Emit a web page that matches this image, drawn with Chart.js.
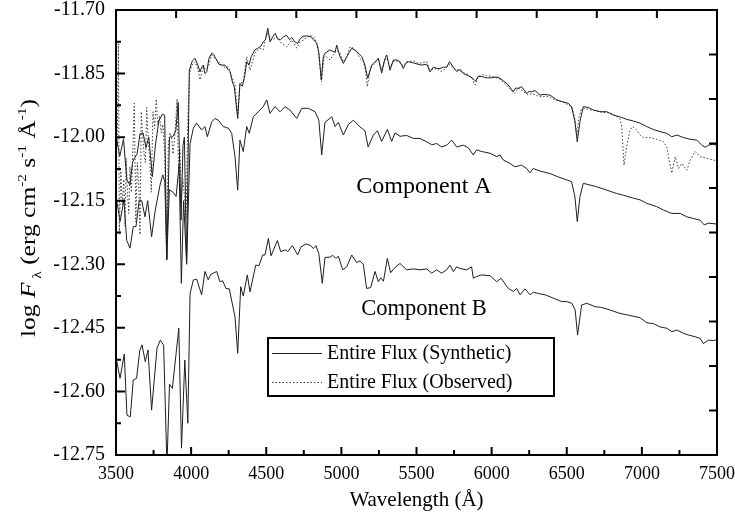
<!DOCTYPE html>
<html>
<head>
<meta charset="utf-8">
<script src="https://cdn.jsdelivr.net/npm/chart.js@4.4.1/dist/chart.umd.min.js"></script>
<style>
  html, body { margin: 0; padding: 0; background: #fff; }
  #wrap { width: 735px; height: 525px; }
</style>
</head>
<body>
<div id="wrap"><canvas id="fluxChart" width="735" height="525"></canvas></div>
<script>
// values: wavelength (Å) and log F_lambda

// entire flux, synthetic
const synWave = [3502, 3525, 3550, 3572, 3593, 3610, 3622, 3640, 3660, 3680, 3700, 3718, 3742, 3762, 3785, 3808, 3824, 3838, 3856, 3878,
  3898, 3914, 3933, 3946, 3955, 3970, 3988, 4008, 4026, 4045, 4059, 4070, 4081, 4092, 4104, 4118, 4137, 4150, 4165, 4185,
  4203, 4225, 4245, 4259, 4275, 4287, 4310, 4325, 4340, 4355, 4370, 4385, 4400, 4425, 4445, 4465, 4480, 4495, 4510, 4525,
  4545, 4560, 4575, 4595, 4615, 4636, 4655, 4670, 4690, 4709, 4725, 4745, 4770, 4800, 4836, 4850, 4866, 4880, 4891, 4924,
  4958, 4969, 4991, 5013, 5036, 5069, 5102, 5136, 5157, 5175, 5202, 5224, 5246, 5268, 5290, 5302, 5324, 5346, 5370, 5390,
  5412, 5430, 5446, 5480, 5510, 5535, 5568, 5590, 5612, 5640, 5656, 5680, 5701, 5720, 5745, 5767, 5790, 5812, 5845, 5870,
  5893, 5910, 5934, 5967, 6000, 6030, 6056, 6080, 6100, 6122, 6144, 6160, 6177, 6199, 6220, 6233, 6250, 6266, 6288, 6322,
  6350, 6389, 6433, 6466, 6510, 6532, 6554, 6570, 6588, 6610, 6643, 6677, 6721, 6766, 6810, 6854, 6899, 6943, 6988, 7032,
  7077, 7122, 7166, 7199, 7233, 7277, 7322, 7366, 7399, 7421, 7444, 7470, 7500];
const synFlux = [-12.000, -12.045, -12.005, -12.100, -12.113, -12.060, -12.050, -12.040, -11.992, -11.990, -12.025, -12.000, -12.093, -12.020, -11.962, -11.946, -11.948, -12.288, -12.000, -11.999,
  -11.985, -11.918, -12.196, -12.020, -12.000, -12.298, -11.842, -11.820, -11.814, -11.830, -11.846, -11.835, -11.830, -11.850, -11.846, -11.815, -11.802, -11.805, -11.815, -11.828,
  -11.830, -11.830, -11.840, -11.845, -11.870, -11.881, -11.956, -11.873, -11.880, -11.860, -11.822, -11.830, -11.810, -11.794, -11.790, -11.785, -11.775, -11.770, -11.743, -11.775,
  -11.762, -11.755, -11.768, -11.770, -11.763, -11.760, -11.770, -11.765, -11.775, -11.779, -11.768, -11.762, -11.761, -11.764, -11.779, -11.800, -11.865, -11.810, -11.802, -11.794,
  -11.800, -11.783, -11.810, -11.826, -11.810, -11.790, -11.798, -11.810, -11.830, -11.861, -11.830, -11.822, -11.814, -11.849, -11.815, -11.806, -11.842, -11.818, -11.818, -11.822,
  -11.838, -11.825, -11.822, -11.825, -11.828, -11.830, -11.828, -11.846, -11.835, -11.838, -11.838, -11.835, -11.835, -11.822, -11.835, -11.845, -11.840, -11.850, -11.855, -11.860,
  -11.868, -11.857, -11.857, -11.860, -11.860, -11.858, -11.861, -11.868, -11.873, -11.882, -11.893, -11.884, -11.885, -11.881, -11.890, -11.897, -11.892, -11.893, -11.890, -11.901,
  -11.899, -11.901, -11.912, -11.916, -11.920, -11.928, -11.963, -12.011, -11.963, -11.928, -11.930, -11.936, -11.940, -11.940, -11.948, -11.952, -11.958, -11.962, -11.967, -11.975,
  -11.982, -11.987, -11.991, -11.999, -11.995, -12.001, -12.005, -12.007, -12.019, -12.024, -12.019, -12.017, -12.019];

// entire flux, observed
const obsWave = [3508, 3516, 3522, 3532, 3542, 3552, 3560, 3568, 3576, 3585, 3593, 3603, 3613, 3622, 3632, 3642, 3652, 3660, 3668, 3678,
  3687, 3696, 3704, 3714, 3724, 3735, 3746, 3757, 3768, 3778, 3790, 3801, 3812, 3824, 3836, 3848, 3858, 3870, 3880, 3890,
  3898, 3906, 3916, 3926, 3935, 3945, 3956, 3966, 3978, 3990, 4005, 4026, 4045, 4059, 4081, 4100, 4114, 4137, 4150, 4170,
  4203, 4225, 4248, 4270, 4292, 4310, 4325, 4347, 4370, 4392, 4425, 4458, 4480, 4503, 4520, 4536, 4570, 4603, 4636, 4670,
  4703, 4725, 4747, 4770, 4791, 4825, 4845, 4868, 4885, 4902, 4924, 4946, 4969, 4991, 5013, 5036, 5058, 5080, 5102, 5125,
  5146, 5160, 5172, 5190, 5202, 5224, 5246, 5268, 5285, 5302, 5324, 5346, 5368, 5390, 5412, 5435, 5479, 5510, 5535, 5568,
  5590, 5612, 5634, 5660, 5690, 5720, 5750, 5780, 5810, 5845, 5870, 5890, 5910, 5934, 5967, 6000, 6030, 6060, 6100, 6130,
  6150, 6180, 6210, 6240, 6270, 6300, 6330, 6360, 6390, 6420, 6450, 6480, 6510, 6535, 6555, 6568, 6580, 6595, 6620, 6660,
  6700, 6740, 6780, 6820, 6854, 6866, 6881, 6899, 6921, 6939, 6965, 6988, 7010, 7055, 7099, 7144, 7166, 7177, 7199, 7222,
  7244, 7266, 7299, 7322, 7355, 7388, 7432, 7477, 7500];
const obsFlux = [-12.02, -11.78, -12.23, -12.08, -12.16, -12.10, -12.21, -12.05, -12.13, -12.18, -12.07, -12.13, -12.02, -11.92, -12.20, -12.06, -12.12, -12.23, -11.94, -12.00,
  -12.04, -12.06, -11.93, -12.00, -12.05, -12.13, -11.94, -11.98, -11.91, -11.97, -11.95, -11.99, -11.97, -12.04, -12.28, -12.02, -11.99, -12.00, -12.04, -12.00,
  -11.96, -11.91, -12.08, -12.03, -12.14, -12.10, -12.14, -12.19, -11.96, -11.85, -11.830, -11.822, -11.840, -11.865, -11.834, -11.840, -11.834, -11.806, -11.812, -11.818,
  -11.830, -11.836, -11.834, -11.857, -11.877, -11.948, -11.873, -11.869, -11.810, -11.842, -11.802, -11.790, -11.794, -11.755, -11.760, -11.771, -11.763, -11.779, -11.787, -11.771,
  -11.790, -11.775, -11.771, -11.765, -11.759, -11.767, -11.790, -11.869, -11.810, -11.810, -11.818, -11.806, -11.795, -11.802, -11.822, -11.812, -11.787, -11.790, -11.798, -11.815,
  -11.822, -11.840, -11.881, -11.845, -11.834, -11.826, -11.814, -11.842, -11.820, -11.814, -11.834, -11.822, -11.820, -11.825, -11.832, -11.822, -11.820, -11.826, -11.824, -11.822,
  -11.842, -11.840, -11.838, -11.845, -11.840, -11.828, -11.838, -11.842, -11.848, -11.852, -11.862, -11.877, -11.858, -11.852, -11.855, -11.856, -11.860, -11.864, -11.878, -11.890,
  -11.897, -11.884, -11.892, -11.900, -11.897, -11.902, -11.905, -11.903, -11.906, -11.912, -11.915, -11.918, -11.924, -11.930, -11.958, -11.995, -11.955, -11.936, -11.932, -11.936,
  -11.938, -11.942, -11.942, -11.948, -11.956, -11.975, -12.066, -12.023, -11.983, -11.975, -11.983, -11.995, -12.001, -12.001, -12.005, -12.011, -12.023, -12.046, -12.085, -12.046,
  -12.074, -12.062, -12.078, -12.054, -12.034, -12.046, -12.050, -12.054, -12.056];

// component A
const compAWave = [3504, 3527, 3553, 3571, 3593, 3615, 3633, 3655, 3671, 3693, 3711, 3737, 3760, 3793, 3811, 3825, 3838, 3855, 3880, 3900,
  3920, 3935, 3950, 3970, 3993, 4015, 4037, 4070, 4092, 4108, 4137, 4159, 4181, 4214, 4248, 4270, 4292, 4310, 4325, 4347,
  4370, 4387, 4414, 4447, 4480, 4503, 4525, 4558, 4592, 4625, 4658, 4703, 4736, 4780, 4825, 4850, 4869, 4891, 4936, 4958,
  4980, 5013, 5047, 5080, 5124, 5157, 5178, 5213, 5240, 5268, 5306, 5335, 5357, 5390, 5434, 5479, 5523, 5568, 5601, 5634,
  5667, 5701, 5734, 5767, 5812, 5845, 5878, 5900, 5934, 5989, 6034, 6056, 6078, 6122, 6155, 6199, 6233, 6255, 6277, 6322,
  6389, 6444, 6500, 6532, 6554, 6570, 6588, 6610, 6655, 6699, 6766, 6832, 6877, 6943, 6988, 7032, 7099, 7144, 7199, 7255,
  7299, 7344, 7388, 7415, 7443, 7500];
const compAFlux = [-12.148, -12.199, -12.148, -12.243, -12.262, -12.211, -12.211, -12.148, -12.150, -12.188, -12.150, -12.235, -12.175, -12.113, -12.089, -12.105, -12.290, -12.124, -12.130, -12.140,
  -12.066, -12.345, -12.150, -12.300, -12.015, -11.979, -11.967, -11.983, -11.975, -11.999, -11.964, -11.956, -11.960, -11.975, -11.979, -11.991, -12.046, -12.125, -12.007, -12.034,
  -11.975, -11.991, -11.952, -11.940, -11.928, -11.912, -11.944, -11.928, -11.940, -11.928, -11.936, -11.956, -11.932, -11.932, -11.940, -11.960, -12.042, -11.965, -11.952, -11.975,
  -11.965, -11.995, -11.970, -11.960, -11.976, -11.985, -12.023, -11.995, -11.985, -12.010, -11.982, -12.010, -11.990, -11.998, -11.996, -12.003, -12.003, -12.011, -12.018, -12.015,
  -12.023, -12.019, -12.007, -12.023, -12.019, -12.025, -12.042, -12.030, -12.034, -12.038, -12.046, -12.042, -12.054, -12.062, -12.070, -12.066, -12.074, -12.084, -12.074, -12.080,
  -12.086, -12.094, -12.101, -12.105, -12.140, -12.199, -12.140, -12.109, -12.113, -12.117, -12.125, -12.133, -12.137, -12.144, -12.148, -12.156, -12.164, -12.172, -12.180, -12.180,
  -12.188, -12.192, -12.196, -12.207, -12.203, -12.205];

// component B
const compBWave = [3504, 3527, 3555, 3573, 3595, 3615, 3637, 3658, 3673, 3695, 3713, 3737, 3773, 3795, 3817, 3839, 3856, 3875, 3918, 3936,
  3958, 3978, 3993, 4015, 4037, 4070, 4092, 4114, 4130, 4170, 4192, 4210, 4232, 4254, 4292, 4310, 4330, 4347, 4374, 4392,
  4430, 4452, 4476, 4492, 4514, 4532, 4574, 4596, 4630, 4643, 4674, 4709, 4731, 4765, 4796, 4813, 4831, 4850, 4873, 4891,
  4925, 4942, 4964, 4980, 5009, 5036, 5069, 5102, 5124, 5146, 5168, 5195, 5224, 5246, 5262, 5280, 5306, 5328, 5350, 5390,
  5434, 5479, 5523, 5568, 5601, 5634, 5667, 5701, 5723, 5745, 5767, 5790, 5834, 5867, 5878, 5900, 5934, 5989, 6034, 6063,
  6111, 6145, 6167, 6189, 6222, 6256, 6278, 6311, 6356, 6411, 6467, 6500, 6534, 6556, 6572, 6599, 6633, 6689, 6733, 6789,
  6854, 6910, 6988, 7033, 7077, 7122, 7166, 7200, 7233, 7277, 7311, 7355, 7388, 7409, 7443, 7477, 7500];
const compBFlux = [-12.527, -12.569, -12.512, -12.656, -12.660, -12.573, -12.569, -12.504, -12.490, -12.530, -12.502, -12.644, -12.498, -12.479, -12.491, -12.775, -12.583, -12.593, -12.451, -12.734,
  -12.526, -12.675, -12.369, -12.337, -12.335, -12.372, -12.317, -12.337, -12.324, -12.317, -12.341, -12.339, -12.357, -12.358, -12.424, -12.510, -12.353, -12.375, -12.325, -12.365,
  -12.302, -12.303, -12.278, -12.278, -12.239, -12.280, -12.244, -12.270, -12.266, -12.270, -12.256, -12.278, -12.259, -12.252, -12.256, -12.263, -12.256, -12.275, -12.345, -12.284,
  -12.283, -12.279, -12.286, -12.281, -12.313, -12.306, -12.278, -12.296, -12.292, -12.300, -12.357, -12.355, -12.317, -12.341, -12.332, -12.340, -12.286, -12.320, -12.310, -12.298,
  -12.313, -12.311, -12.313, -12.311, -12.321, -12.313, -12.321, -12.313, -12.302, -12.317, -12.306, -12.310, -12.313, -12.306, -12.333, -12.329, -12.325, -12.327, -12.341, -12.333,
  -12.357, -12.364, -12.357, -12.372, -12.358, -12.372, -12.366, -12.369, -12.372, -12.380, -12.388, -12.388, -12.392, -12.408, -12.467, -12.396, -12.392, -12.400, -12.402, -12.408,
  -12.416, -12.420, -12.426, -12.438, -12.440, -12.448, -12.451, -12.459, -12.455, -12.463, -12.467, -12.471, -12.475, -12.487, -12.479, -12.480, -12.478];

const seriesLabels = ["Entire Flux (Synthetic)", "Entire Flux (Observed)", "Component A", "Component B"];
const xLimits = [3500, 7500];
const yLimits = [-12.75, -11.70];
const xStep = 500;
const yStep = 0.15;
const topDivisions = 10;   // unlabelled ticks on the top axis
const rightDivisions = 10; // unlabelled ticks on the right axis

const serif = "'Liberation Serif', 'Times New Roman', serif";

function toPoints(wave, flux) {
  return wave.map((w, i) => ({x: w, y: flux[i]}));
}

// frame, inward ticks, legend box, curve labels and the y title
const decorPlugin = {
  id: "decor",
  afterDraw(chart) {
    const {ctx, chartArea: a} = chart;
    const xs = chart.scales.x, ys = chart.scales.y;
    ctx.save();
    ctx.strokeStyle = "#000";
    ctx.lineWidth = 2;
    ctx.beginPath();

    // bottom: major + minor
    const xt = xs.ticks.map(t => t.value);
    xt.forEach((v, i) => {
      const p = xs.getPixelForValue(v);
      ctx.moveTo(p, a.bottom); ctx.lineTo(p, a.bottom - 8);
      if (i < xt.length - 1) {
        const m = xs.getPixelForValue((v + xt[i + 1]) / 2);
        ctx.moveTo(m, a.bottom); ctx.lineTo(m, a.bottom - 5);
      }
    });
    // left: major + minor
    const yt = ys.ticks.map(t => t.value);
    yt.forEach((v, i) => {
      const p = ys.getPixelForValue(v);
      ctx.moveTo(a.left, p); ctx.lineTo(a.left + 9, p);
      if (i < yt.length - 1) {
        const m = ys.getPixelForValue((v + yt[i + 1]) / 2);
        ctx.moveTo(a.left, m); ctx.lineTo(a.left + 5, m);
      }
    });
    // top and right
    for (let k = 1; k < topDivisions; k++) {
      const p = xs.getPixelForValue(xLimits[0] + (xLimits[1] - xLimits[0]) * k / topDivisions);
      ctx.moveTo(p, a.top); ctx.lineTo(p, a.top + 8);
    }
    for (let k = 1; k < rightDivisions; k++) {
      const p = ys.getPixelForValue(yLimits[1] - (yLimits[1] - yLimits[0]) * k / rightDivisions);
      ctx.moveTo(a.right, p); ctx.lineTo(a.right - 8, p);
    }
    ctx.stroke();
    ctx.strokeRect(a.left, a.top, a.right - a.left, a.bottom - a.top);

    // curve labels
    ctx.fillStyle = "#000";
    ctx.textAlign = "center";
    ctx.textBaseline = "alphabetic";
    ctx.font = "24px " + serif;
    ctx.fillText(seriesLabels[2], a.left + 308, a.top + 183);
    ctx.font = "22.5px " + serif;
    ctx.fillText(seriesLabels[3], a.left + 308, a.top + 305);

    // legend box
    const bx = a.left + 152, by = a.top + 328, bw = 286, bh = 58;
    ctx.fillStyle = "#fff";
    ctx.fillRect(bx, by, bw, bh);
    ctx.lineWidth = 2;
    ctx.strokeRect(bx, by, bw, bh);
    const sets = chart.data.datasets;
    [0, 1].forEach((di, row) => {
      const ly = by + 15 + row * 29;
      ctx.save();
      ctx.strokeStyle = sets[di].borderColor;
      ctx.lineWidth = 1;
      ctx.setLineDash(sets[di].borderDash || []);
      ctx.beginPath();
      ctx.moveTo(bx + 4, ly + 0.5); ctx.lineTo(bx + 54, ly + 0.5);
      ctx.stroke();
      ctx.restore();
      ctx.fillStyle = "#000";
      ctx.textAlign = "left";
      ctx.textBaseline = "middle";
      ctx.font = "20px " + serif;
      ctx.fillText(sets[di].label, bx + 59, ly + 1);
    });

    // x title
    ctx.textAlign = "center";
    ctx.textBaseline = "middle";
    ctx.font = "21px " + serif;
    ctx.fillText("Wavelength (Å)", (a.left + a.right) / 2, 500);

    // y title with italic, sub- and superscripts
    const parts = [
      {t: "log ", s: 1, dy: 0},
      {t: "F", s: 1, dy: 0, it: true},
      {t: " λ", s: 0.6, dy: 0.3},
      {t: " (erg cm", s: 1, dy: 0},
      {t: "-2", s: 0.6, dy: -0.45},
      {t: " s", s: 1, dy: 0},
      {t: "-1", s: 0.6, dy: -0.45},
      {t: " Å", s: 1, dy: 0},
      {t: "-1", s: 0.6, dy: -0.45},
      {t: ")", s: 1, dy: 0}
    ];
    const base = 20;
    const fontOf = p => (p.it ? "italic " : "") + (base * p.s) + "px " + serif;
    let total = 0;
    parts.forEach(p => { ctx.font = fontOf(p); p.w = ctx.measureText(p.t).width; total += p.w; });
    const targetLen = 238;
    ctx.translate(35, 218);
    ctx.rotate(-Math.PI / 2);
    ctx.scale(targetLen / total, 1);
    ctx.textAlign = "left";
    ctx.textBaseline = "alphabetic";
    let u = -total / 2;
    parts.forEach(p => {
      ctx.font = fontOf(p);
      ctx.fillText(p.t, u, p.dy * base);
      u += p.w;
    });
    ctx.restore();
  }
};

const lineStyle = {borderColor: "#1e1e1e", borderWidth: 1, pointRadius: 0, tension: 0, fill: false};

// keep the plot box fixed: no extra room for the end labels
function fixX(s) {
  s.height = 70;
  s.paddingLeft = 0; s.paddingRight = 0;
}
function fixY(s) {
  s.width = 116;
  s.paddingTop = 0; s.paddingBottom = 0;
}

new Chart(document.getElementById("fluxChart"), {
  type: "line",
  data: {
    datasets: [
      Object.assign({label: seriesLabels[0], data: toPoints(synWave, synFlux)}, lineStyle),
      Object.assign({}, lineStyle, {label: seriesLabels[1], data: toPoints(obsWave, obsFlux), borderColor: "#3a3a3a", borderDash: [1.5, 2]}),
      Object.assign({label: seriesLabels[2], data: toPoints(compAWave, compAFlux)}, lineStyle),
      Object.assign({label: seriesLabels[3], data: toPoints(compBWave, compBFlux)}, lineStyle)
    ]
  },
  options: {
    responsive: false,
    animation: false,
    parsing: false,
    layout: {padding: {top: 10, right: 18, left: 0, bottom: 0}},
    plugins: {legend: {display: false}, tooltip: {enabled: false}},
    scales: {
      x: {
        type: "linear",
        min: xLimits[0], max: xLimits[1],
        grid: {display: false, drawTicks: false},
        border: {display: false},
        ticks: {stepSize: xStep, color: "#000", font: {family: serif, size: 18}, padding: 8, maxRotation: 0,
          callback: v => String(v)},
        afterFit: fixX
      },
      y: {
        min: yLimits[0], max: yLimits[1],
        grid: {display: false, drawTicks: false},
        border: {display: false},
        ticks: {stepSize: yStep, color: "#000", font: {family: serif, size: 20}, padding: 11,
          callback: v => v.toFixed(2)},
        afterFit: fixY
      }
    }
  },
  plugins: [decorPlugin]
});
</script>
</body>
</html>
